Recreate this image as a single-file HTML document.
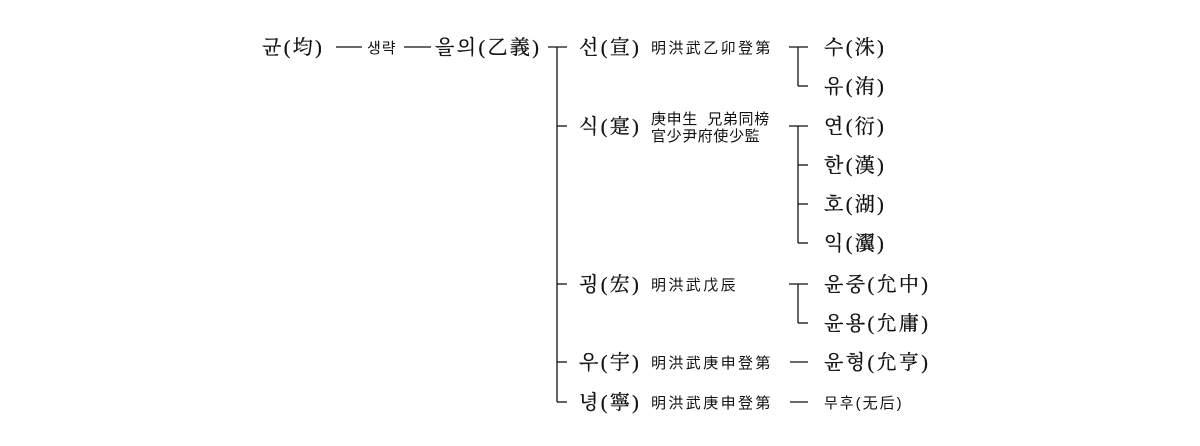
<!DOCTYPE html>
<html><head><meta charset="utf-8"><style>
html,body{margin:0;padding:0;background:#fff;}
svg{display:block}
.m{font-family:"Liberation Serif","Noto Serif CJK KR","Noto Serif CJK SC",serif;font-size:20px;fill:#111;letter-spacing:2.4px;stroke:#111;stroke-width:0.3px}
.s{font-family:"Liberation Sans","Noto Sans CJK KR","Noto Sans CJK SC",sans-serif;font-size:15px;fill:#111;letter-spacing:2.4px}
</style></head><body>
<svg width="1200" height="446" xmlns="http://www.w3.org/2000/svg">
<g stroke="#111" stroke-width="1.3" fill="none">
<line x1="336" y1="47" x2="362" y2="47"/>
<line x1="404" y1="47" x2="431" y2="47"/>
<line x1="548" y1="47" x2="567" y2="47"/>
<line x1="557" y1="47" x2="557" y2="402"/>
<line x1="557" y1="126" x2="567" y2="126"/>
<line x1="557" y1="284" x2="567" y2="284"/>
<line x1="557" y1="362" x2="567" y2="362"/>
<line x1="557" y1="402" x2="567" y2="402"/>
<line x1="789" y1="47" x2="808" y2="47"/>
<line x1="798" y1="47" x2="798" y2="86"/>
<line x1="798" y1="86" x2="808" y2="86"/>
<line x1="789" y1="126" x2="808" y2="126"/>
<line x1="798" y1="126" x2="798" y2="243"/>
<line x1="798" y1="165" x2="808" y2="165"/>
<line x1="798" y1="204" x2="808" y2="204"/>
<line x1="798" y1="243" x2="808" y2="243"/>
<line x1="789" y1="284" x2="808" y2="284"/>
<line x1="798" y1="284" x2="798" y2="323"/>
<line x1="798" y1="323" x2="808" y2="323"/>
<line x1="790" y1="362" x2="808" y2="362"/>
<line x1="790" y1="402" x2="808" y2="402"/>
</g>
<text class="m" x="262" y="54">균(均)</text>
<text class="s" x="367" y="53" style="letter-spacing:1px">생략</text>
<text class="m" x="435" y="54">을의(乙義)</text>
<text class="m" x="579" y="54">선(宣)</text>
<text class="s" x="651" y="53">明洪武乙卯登第</text>
<text class="m" x="579" y="133">식(寔)</text>
<text class="s" x="651" y="124" style="letter-spacing:0.6px">庚申生&#160;&#160;兄弟同榜</text>
<text class="s" x="651" y="141" style="letter-spacing:0.6px">官少尹府使少監</text>
<text class="m" x="579" y="291">굉(宏)</text>
<text class="s" x="651" y="290">明洪武戊辰</text>
<text class="m" x="579" y="369">우(宇)</text>
<text class="s" x="651" y="368">明洪武庚申登第</text>
<text class="m" x="579" y="409">녕(寧)</text>
<text class="s" x="651" y="408">明洪武庚申登第</text>
<text class="m" x="824" y="54">수(洙)</text>
<text class="m" x="824" y="93">유(洧)</text>
<text class="m" x="824" y="133">연(衍)</text>
<text class="m" x="824" y="172">한(漢)</text>
<text class="m" x="824" y="211">호(湖)</text>
<text class="m" x="824" y="250">익(瀷)</text>
<text class="m" x="824" y="291">윤중(允中)</text>
<text class="m" x="824" y="330">윤용(允庸)</text>
<text class="m" x="824" y="369">윤형(允亨)</text>
<text class="s" x="824" y="408" style="letter-spacing:2px">무후(无后)</text>
</svg>
</body></html>
